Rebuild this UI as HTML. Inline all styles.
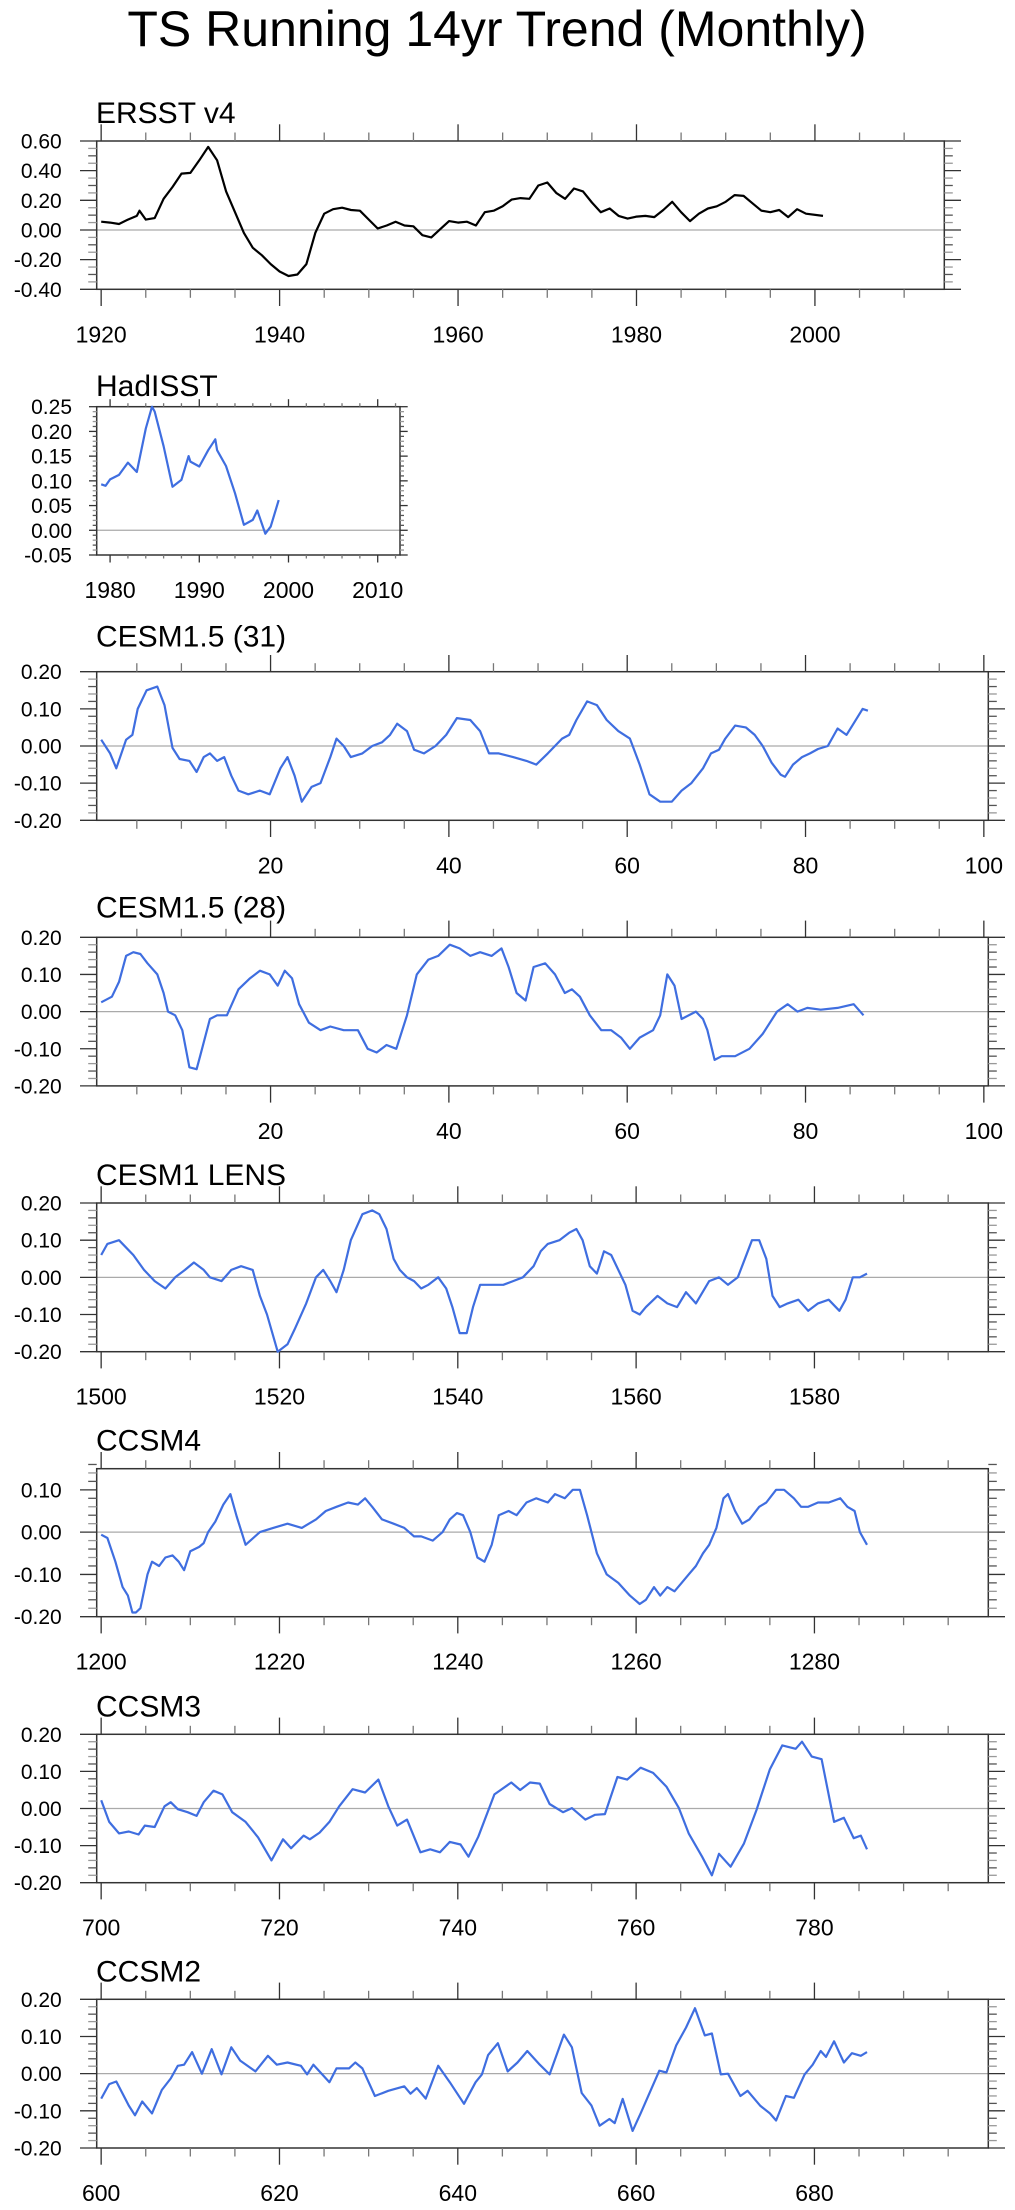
<!DOCTYPE html>
<html><head><meta charset="utf-8"><title>TS Running 14yr Trend (Monthly)</title>
<style>
html,body{margin:0;padding:0;background:#fff;}
svg{display:block;font-family:"Liberation Sans",Arial,sans-serif;}
</style></head>
<body>
<svg id="chart" width="1015" height="2210" viewBox="0 0 1015 2210">
<text x="497" y="46" font-size="50" text-anchor="middle">TS Running 14yr Trend (Monthly)</text>
</svg>
<script>
// ---------- data ----------
const ersstTime = [1920,1921,1922,1923,1924,1924.3,1925,1926,1927,1928,1929,1930,1931,1932,1933,1934,1935,1936,1937,1938,1939,1940,1941,1942,1943,1944,1945,1946,1947,1948,1949,1950,1951,1952,1953,1954,1955,1956,1957,1958,1959,1960,1961,1962,1963,1964,1965,1966,1967,1968,1969,1970,1971,1972,1973,1974,1975,1976,1977,1978,1979,1980,1981,1982,1983,1984,1985,1986,1987,1988,1989,1990,1991,1992,1993,1994,1995,1996,1997,1998,1999,2000.9];
const ersstVals = [0.056,0.05,0.04,0.07,0.095,0.13,0.07,0.08,0.21,0.29,0.38,0.385,0.47,0.56,0.47,0.26,0.12,-0.02,-0.12,-0.17,-0.23,-0.28,-0.31,-0.30,-0.23,-0.02,0.11,0.14,0.15,0.135,0.13,0.07,0.01,0.03,0.056,0.03,0.025,-0.035,-0.05,0.005,0.06,0.05,0.056,0.03,0.12,0.13,0.16,0.205,0.215,0.21,0.30,0.32,0.25,0.21,0.28,0.26,0.185,0.12,0.145,0.095,0.077,0.09,0.095,0.087,0.135,0.19,0.12,0.06,0.11,0.145,0.16,0.19,0.235,0.23,0.18,0.13,0.12,0.135,0.087,0.14,0.11,0.095];

const hadTime = [1979,1979.5,1980,1981,1982,1983,1984,1984.7,1985,1986,1987,1988,1988.8,1989,1990,1991,1991.8,1992,1993,1994,1995,1996,1996.5,1997.4,1998,1998.9];
const hadVals = [0.093,0.09,0.103,0.112,0.137,0.118,0.206,0.25,0.24,0.17,0.088,0.102,0.15,0.139,0.129,0.162,0.184,0.162,0.13,0.075,0.011,0.021,0.04,-0.007,0.0075,0.061];

const c31Time = [1,2,2.7,3.8,4.5,5.1,6.1,7.3,8.1,9,9.8,10.9,11.7,12.5,13.2,14,14.8,15.6,16.4,17.5,18.8,19.9,21.1,21.9,22.7,23.5,24.6,25.6,26.7,27.4,28.2,29,30.3,31.4,32.5,33.4,34.2,35.3,36.1,37.2,38.5,39.7,40.9,42.4,43.5,44.5,45.6,47.2,48.7,49.8,51.1,52.7,53.5,54.3,55.5,56.6,57.7,59,60.3,61.4,62.5,63.7,65,66.1,67.2,68.5,69.4,70.3,71,72.1,73.3,74.3,75.2,76.2,77.2,77.7,78.6,79.6,80.5,81.4,82.5,83.6,84.6,85.3,86.4,87];
const c31Vals = [0.017,-0.02,-0.06,0.017,0.03,0.1,0.15,0.16,0.11,-0.005,-0.035,-0.04,-0.07,-0.03,-0.02,-0.04,-0.03,-0.08,-0.12,-0.13,-0.12,-0.13,-0.06,-0.03,-0.08,-0.15,-0.11,-0.1,-0.03,0.02,0.0,-0.03,-0.02,0.0,0.01,0.03,0.06,0.04,-0.01,-0.02,0.0,0.03,0.075,0.07,0.04,-0.02,-0.02,-0.03,-0.04,-0.05,-0.02,0.02,0.03,0.07,0.12,0.11,0.07,0.04,0.02,-0.05,-0.13,-0.15,-0.15,-0.12,-0.1,-0.06,-0.02,-0.01,0.02,0.055,0.05,0.03,0.0,-0.045,-0.077,-0.083,-0.05,-0.03,-0.02,-0.008,0.0,0.047,0.03,0.057,0.1,0.095];

const c28Time = [1,2.2,3,3.8,4.6,5.4,6.2,7.3,8,8.5,9.3,10.1,10.9,11.7,12.1,13.2,14,15.1,16.4,17.7,18.8,19.9,20.8,21.6,22.4,23.2,24.3,25.6,26.7,28.2,29.8,30.9,31.9,33,34.1,35.3,36.4,37.7,38.8,40.1,41.2,42.4,43.5,44.8,45.9,46.7,47.6,48.6,49.5,50.8,51.9,53,53.8,54.7,55.8,57.1,58.2,59.3,60.3,61.4,62.9,63.7,64.5,65.3,66.1,67.7,68.5,69,69.8,70.6,72.1,73.7,75.2,76.8,78,79.1,80.2,81.7,83.6,85.4,86.5];
const c28Vals = [0.025,0.04,0.08,0.15,0.16,0.155,0.13,0.1,0.05,0.0,-0.01,-0.05,-0.15,-0.155,-0.12,-0.02,-0.01,-0.01,0.06,0.09,0.11,0.1,0.07,0.11,0.09,0.02,-0.03,-0.05,-0.04,-0.05,-0.05,-0.1,-0.11,-0.09,-0.1,-0.01,0.1,0.14,0.15,0.18,0.17,0.15,0.16,0.15,0.17,0.12,0.05,0.03,0.12,0.13,0.1,0.05,0.06,0.04,-0.01,-0.05,-0.05,-0.07,-0.1,-0.07,-0.05,-0.01,0.1,0.07,-0.02,0.0,-0.02,-0.05,-0.13,-0.12,-0.12,-0.1,-0.06,0.0,0.02,0.0,0.01,0.005,0.01,0.02,-0.01];

const lensTime = [1500,1500.7,1502,1503.6,1504.8,1506,1507.2,1508.3,1509.4,1510.4,1511.5,1512.2,1513.5,1514.6,1515.7,1517,1517.8,1518.6,1519.8,1520.9,1521.7,1523,1524.1,1524.9,1525.7,1526.4,1527.2,1528,1529.3,1530.4,1531.2,1532,1532.8,1533.5,1534.3,1535.1,1535.9,1536.7,1537.8,1538.7,1539.4,1540.2,1541,1541.7,1542.5,1543.8,1545.1,1546.2,1547.3,1548.5,1549.3,1550.1,1551.4,1552.5,1553.3,1554,1554.8,1555.6,1556.4,1557.2,1558,1558.8,1559.6,1560.4,1561.1,1562.4,1563.5,1564.6,1565.6,1566.7,1568.2,1569.3,1570.3,1571.4,1572.2,1573,1573.8,1574.6,1575.3,1576.1,1577,1578.2,1579.3,1580.4,1581.6,1582.8,1583.5,1584.3,1585.1,1585.9];
const lensVals = [0.06,0.09,0.1,0.06,0.02,-0.01,-0.03,0.0,0.02,0.04,0.02,0.0,-0.01,0.02,0.03,0.02,-0.05,-0.1,-0.2,-0.18,-0.14,-0.07,0.0,0.02,-0.01,-0.04,0.02,0.1,0.17,0.18,0.17,0.13,0.05,0.02,0.0,-0.01,-0.03,-0.02,0.0,-0.03,-0.08,-0.15,-0.15,-0.08,-0.02,-0.02,-0.02,-0.01,0.0,0.03,0.07,0.09,0.1,0.12,0.13,0.1,0.03,0.01,0.07,0.06,0.02,-0.02,-0.09,-0.1,-0.08,-0.05,-0.07,-0.08,-0.04,-0.07,-0.01,0.0,-0.02,0.0,0.05,0.1,0.1,0.05,-0.05,-0.08,-0.07,-0.06,-0.09,-0.07,-0.06,-0.09,-0.06,0.0,0.0,0.01];

const c4Time = [1200,1200.7,1201.6,1202.4,1203,1203.5,1203.9,1204.4,1205.2,1205.7,1206.5,1207.2,1208,1208.7,1209.3,1210,1211,1211.5,1212,1212.8,1213.7,1214.5,1215.2,1216.2,1217.8,1219.3,1220.9,1222.5,1224.1,1225.2,1226.4,1227.7,1228.8,1229.6,1230.4,1231.5,1232.8,1234,1235.1,1235.9,1237.2,1238.3,1239.1,1239.9,1240.6,1241.4,1242.2,1243,1243.8,1244.6,1245.7,1246.6,1247.7,1248.8,1250.1,1250.9,1252,1252.9,1253.7,1254.5,1255.6,1256.7,1258,1259.3,1260.4,1261.1,1262,1262.7,1263.5,1264.3,1265.1,1265.9,1266.7,1267.5,1268.2,1269,1269.8,1270.3,1271.1,1271.9,1272.7,1273.8,1274.6,1275.7,1276.6,1277.7,1278.5,1279.3,1280.4,1281.6,1282.9,1283.7,1284.5,1285.1,1285.9];
const c4Vals = [-0.006,-0.014,-0.07,-0.13,-0.15,-0.19,-0.19,-0.18,-0.1,-0.07,-0.08,-0.06,-0.055,-0.07,-0.09,-0.045,-0.035,-0.026,0.0,0.025,0.065,0.09,0.037,-0.03,0.0,0.01,0.02,0.01,0.03,0.05,0.06,0.07,0.065,0.08,0.06,0.03,0.02,0.01,-0.01,-0.01,-0.02,0.0,0.03,0.045,0.04,0.0,-0.06,-0.07,-0.03,0.04,0.05,0.04,0.07,0.08,0.07,0.09,0.08,0.1,0.1,0.04,-0.05,-0.1,-0.12,-0.15,-0.17,-0.16,-0.13,-0.15,-0.13,-0.14,-0.12,-0.1,-0.08,-0.05,-0.03,0.01,0.08,0.09,0.05,0.02,0.03,0.06,0.07,0.1,0.1,0.08,0.06,0.06,0.07,0.07,0.08,0.06,0.05,0.0,-0.03];

const c3Time = [700,700.9,702,703.1,704.2,704.9,706,707.1,707.8,708.6,709.7,710.7,711.5,712.6,713.6,714.7,716.2,717.6,719.1,720.4,721.3,722.7,723.4,724.5,725.6,726.7,728.2,729.6,731.1,732.2,733.2,734.3,735.8,736.9,738,739.1,740.3,741.2,742.3,744.1,746,747,748.1,749.2,750.3,751.8,752.8,754.3,755.4,756.5,757.9,759,760.5,761.9,763.4,764.8,765.9,767.4,768.5,769.3,770.6,772.1,773.5,775,776.4,777.9,778.6,779.7,780.8,782.2,783.3,784.4,785.2,785.9];
const c3Vals = [0.022,-0.036,-0.067,-0.062,-0.07,-0.046,-0.05,0.006,0.017,-0.002,-0.01,-0.02,0.017,0.048,0.038,-0.01,-0.036,-0.078,-0.14,-0.083,-0.107,-0.073,-0.083,-0.065,-0.036,0.006,0.052,0.043,0.078,0.006,-0.046,-0.03,-0.118,-0.11,-0.118,-0.09,-0.097,-0.13,-0.076,0.038,0.07,0.05,0.07,0.067,0.012,-0.01,0.001,-0.03,-0.017,-0.015,0.085,0.078,0.11,0.096,0.059,0.001,-0.067,-0.13,-0.18,-0.122,-0.157,-0.094,-0.004,0.106,0.17,0.161,0.18,0.14,0.133,-0.036,-0.025,-0.08,-0.073,-0.11];

const c2Time = [600,600.9,601.7,603.1,603.8,604.6,605.7,606.8,607.8,608.6,609.3,610.2,611.3,612.4,613.5,614.6,615.6,617.3,618.7,619.7,620.9,622.4,623.1,623.8,625.6,626.4,627.8,628.5,629.3,630.7,632.2,634,634.7,635.4,636.4,637.8,639.1,640.7,642,642.7,643.4,644.5,645.6,646.7,647.8,649.2,650.3,651.9,652.8,653.9,655,655.9,657,657.6,658.5,659.6,660.5,662.6,663.4,664.5,665.6,666.6,667.7,668.5,669.5,670.3,671.7,672.5,673.9,675,675.7,676.8,677.7,678.9,679.8,680.7,681.3,682.2,683.3,684.2,685.2,685.9];
const c2Vals = [-0.067,-0.028,-0.021,-0.086,-0.112,-0.075,-0.107,-0.044,-0.013,0.021,0.024,0.058,0.0,0.066,-0.002,0.071,0.035,0.006,0.048,0.024,0.03,0.021,-0.002,0.024,-0.023,0.014,0.014,0.03,0.014,-0.06,-0.046,-0.034,-0.054,-0.039,-0.067,0.021,-0.023,-0.081,-0.023,-0.002,0.05,0.082,0.006,0.03,0.061,0.024,-0.002,0.105,0.071,-0.052,-0.086,-0.14,-0.122,-0.133,-0.068,-0.154,-0.107,0.008,0.003,0.076,0.124,0.176,0.103,0.108,-0.002,0.0,-0.06,-0.046,-0.086,-0.107,-0.126,-0.06,-0.065,-0.002,0.024,0.061,0.045,0.087,0.03,0.055,0.048,0.058];

const ersstYLabels = ["0.60","0.40","0.20","0.00","-0.20","-0.40"];
const hadYLabels = ["0.25","0.20","0.15","0.10","0.05","0.00","-0.05"];
const modelYLabels = ["0.20","0.10","0.00","-0.10","-0.20"];
const ccsm4YLabels = ["0.10","0.00","-0.10","-0.20"];
const ersstXLabels = ["1920","1940","1960","1980","2000"];
const hadXLabels = ["1980","1990","2000","2010"];
const cesmXLabels = ["20","40","60","80","100"];
const lensXLabels = ["1500","1520","1540","1560","1580"];
const ccsm4XLabels = ["1200","1220","1240","1260","1280"];
const ccsm3XLabels = ["700","720","740","760","780"];
const ccsm2XLabels = ["600","620","640","660","680"];

// ---------- layout ----------
const NS = "http://www.w3.org/2000/svg";
const svg = document.getElementById('chart');
function mk(tag, attrs, parent){
  const e = document.createElementNS(NS, tag);
  for (const k in attrs) e.setAttribute(k, attrs[k]);
  (parent||svg).appendChild(e);
  return e;
}

const panels = [
  {name:'ersst', title:'ERSST v4', top:141, bot:289.3, left:96.7, right:944.3, xmin:1919.5, xmax:2014.5, ymin:-0.4, ymax:0.6,
   yMajor:0.2, yMinor:0.05, xMajor:20, xMinor:5, xLabels:ersstXLabels, yLabels:ersstYLabels, time:ersstTime, vals:ersstVals,
   color:'#000', big:true, titleOff:18, labOff:53},
  {name:'hadisst', title:'HadISST', top:406.7, bot:555, left:96.7, right:400, xmin:1978.5, xmax:2012.5, ymin:-0.05, ymax:0.25,
   yMajor:0.05, yMinor:0.01, xMajor:10, xMinor:2, xLabels:hadXLabels, yLabels:hadYLabels, time:hadTime, vals:hadVals,
   color:'#3f6ee0', big:false, titleOff:10.7, labOff:43},
  {name:'cesm15-31', title:'CESM1.5 (31)', top:671.7, bot:820.3, left:96.7, right:988.3, xmin:0.5, xmax:100.5, ymin:-0.2, ymax:0.2,
   yMajor:0.1, yMinor:0.02, xMajor:20, xMinor:5, xLabels:cesmXLabels, yLabels:modelYLabels, time:c31Time, vals:c31Vals,
   color:'#3f6ee0', big:true, titleOff:25, labOff:53},
  {name:'cesm15-28', title:'CESM1.5 (28)', top:937.3, bot:1085.9, left:96.7, right:988.3, xmin:0.5, xmax:100.5, ymin:-0.2, ymax:0.2,
   yMajor:0.1, yMinor:0.02, xMajor:20, xMinor:5, xLabels:cesmXLabels, yLabels:modelYLabels, time:c28Time, vals:c28Vals,
   color:'#3f6ee0', big:true, titleOff:20, labOff:53},
  {name:'cesm1-lens', title:'CESM1 LENS', top:1203, bot:1351.7, left:96.7, right:988.3, xmin:1499.5, xmax:1599.5, ymin:-0.2, ymax:0.2,
   yMajor:0.1, yMinor:0.02, xMajor:20, xMinor:5, xLabels:lensXLabels, yLabels:modelYLabels, time:lensTime, vals:lensVals,
   color:'#3f6ee0', big:true, titleOff:18, labOff:53},
  {name:'ccsm4', title:'CCSM4', top:1468.7, bot:1616.7, left:96.7, right:988.3, xmin:1199.5, xmax:1299.5, ymin:-0.2, ymax:0.15,
   yMajor:0.1, yMinor:0.02, xMajor:20, xMinor:5, xLabels:ccsm4XLabels, yLabels:ccsm4YLabels, time:c4Time, vals:c4Vals,
   color:'#3f6ee0', big:true, titleOff:18, labOff:53},
  {name:'ccsm3', title:'CCSM3', top:1734.3, bot:1882.7, left:96.7, right:988.3, xmin:699.5, xmax:799.5, ymin:-0.2, ymax:0.2,
   yMajor:0.1, yMinor:0.02, xMajor:20, xMinor:5, xLabels:ccsm3XLabels, yLabels:modelYLabels, time:c3Time, vals:c3Vals,
   color:'#3f6ee0', big:true, titleOff:18, labOff:53},
  {name:'ccsm2', title:'CCSM2', top:1999.3, bot:2148, left:96.7, right:988.3, xmin:599.5, xmax:699.5, ymin:-0.2, ymax:0.2,
   yMajor:0.1, yMinor:0.02, xMajor:20, xMinor:5, xLabels:ccsm2XLabels, yLabels:modelYLabels, time:c2Time, vals:c2Vals,
   color:'#3f6ee0', big:true, titleOff:18, labOff:53}
];

panels.forEach(function(p){
  const g = mk('g', {});
  
  
  const xs = v => p.left + (v - p.xmin) / (p.xmax - p.xmin) * (p.right - p.left);
  const ys = v => p.bot - (v - p.ymin) / (p.ymax - p.ymin) * (p.bot - p.top);
  const majLen = p.big ? 16.7 : 7.7, minLen = p.big ? 8.5 : 4;
  const xMajLen = p.big ? 16.7 : 7.5, xMinLen = p.big ? 8.5 : 3.5;

  const t = mk('text', {x:96, y:p.top - p.titleOff, 'font-size':30}, g);
  t.textContent = p.title;
  
  

  const z = mk('line', {x1:p.left, x2:p.right, y1:ys(0), y2:ys(0), stroke:'#aaa', 'stroke-width':1.2}, g);
  
  

  const fr = mk('rect', {x:p.left, y:p.top, width:p.right-p.left, height:p.bot-p.top, fill:'none', stroke:'#333', 'stroke-width':1.5}, g);
  
  

  const yt = mk('g', {stroke:'#555', 'stroke-width':1.3}, g);
  
  
  const nMin = Math.round((p.ymax - p.ymin) / p.yMinor);
  for (let i = 0; i <= nMin; i++) {
    const v = p.ymin + i * p.yMinor;
    const isMaj = Math.abs(v / p.yMajor - Math.round(v / p.yMajor)) < 1e-6;
    const L = isMaj ? majLen : minLen;
    const y = ys(v);
    mk('line', {x1:p.left - L, x2:p.left, y1:y, y2:y, stroke: isMaj ? '#333' : (i % 2 ? '#999' : '#555')}, yt);
    mk('line', {x1:p.right, x2:p.right + L, y1:y, y2:y, stroke: isMaj ? '#333' : (i % 2 ? '#999' : '#555')}, yt);
  }
  p.yLabels.forEach(function(lab){
    const v = parseFloat(lab);
    const tx = mk('text', {x: p.big ? 61.7 : 72, y: ys(v) + 7.5, 'font-size':21, 'text-anchor':'end'}, g);
    tx.textContent = lab;
    
    
  });

  const xt = mk('g', {stroke:'#555', 'stroke-width':1.3}, g);
  
  
  const start = Math.ceil(p.xmin / p.xMinor) * p.xMinor;
  for (let v = start; v <= p.xmax + 1e-6; v += p.xMinor) {
    const isMaj = Math.abs(v / p.xMajor - Math.round(v / p.xMajor)) < 1e-6;
    const L = isMaj ? xMajLen : xMinLen;
    const x = xs(v);
    mk('line', {x1:x, x2:x, y1:p.top - L, y2:p.top, stroke: isMaj ? '#333' : '#777'}, xt);
    mk('line', {x1:x, x2:x, y1:p.bot, y2:p.bot + L, stroke: isMaj ? '#333' : '#777'}, xt);
  }
  p.xLabels.forEach(function(lab){
    const v = parseFloat(lab);
    const tx = mk('text', {x: xs(v), y: p.bot + p.labOff, 'font-size': 23, 'text-anchor':'middle'}, g);
    tx.textContent = lab;
    
    
  });

  let d = '';
  p.time.forEach(function(tv, i){
    d += (i ? 'L' : 'M') + xs(tv).toFixed(1) + ',' + ys(p.vals[i]).toFixed(1);
  });
  const path = mk('path', {d:d, fill:'none', stroke:p.color, 'stroke-width':2.2, 'stroke-linejoin':'round'}, g);
  
  
});
</script>
</body></html>
